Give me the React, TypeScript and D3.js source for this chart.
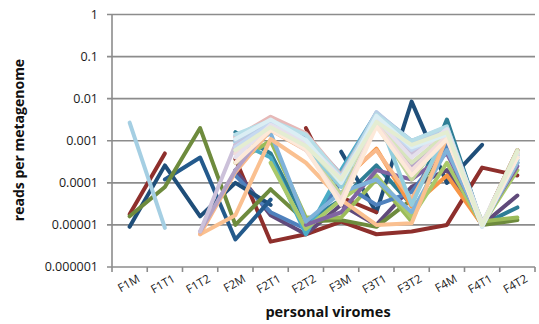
import React from "react";
import * as d3 from "d3";

// Sample labels along the x axis
const categories = ["F1M", "F1T1", "F1T2", "F2M", "F2T1", "F2T2", "F3M", "F3T1", "F3T2", "F4M", "F4T1", "F4T2"];
const yTickValues = [1, 0.1, 0.01, 0.001, 0.0001, 0.00001, 0.000001];
const yTickLabels = ["1", "0.1", "0.01", "0.001", "0.0001", "0.00001", "0.000001"];

type V = number | null;
const _ = null;

// Contig abundances per sample (reads per metagenome); null = not detected
const f1Navy: V[] = [9e-6, 2.6e-4, 1.6e-5, 1e-4, 3e-5, _, _, _, _, _, _, _];
const f1Blue: V[] = [_, 1.2e-4, 4e-4, 4.5e-6, 4e-5, _, _, _, _, _, _, _];
const f1Red: V[] = [1.8e-5, 5e-4, _, _, _, _, _, _, _, _, _, _];
const f1Olive: V[] = [1.6e-5, 8e-5, 2e-3, 1e-5, 7e-5, _, _, _, _, _, _, _];
const f1Sky: V[] = [2.7e-3, 8.5e-6, _, _, _, _, _, _, _, _, _, _];

const tealA: V[] = [_, _, _, 1.6e-3, 5e-4, 1.2e-5, 4e-5, 2.6e-4, 3e-5, 3.2e-3, 1e-5, 2.6e-5];
const navyB: V[] = [_, _, _, _, _, _, 5.5e-4, 2e-5, 8.5e-3, 1e-4, 8e-4, _];
const redB: V[] = [_, _, _, _, _, 2e-3, 4.5e-5, 2e-5, _, _, _, _];
const redC: V[] = [_, _, _, 3.7e-4, 4e-6, 6e-6, 1.2e-5, 6e-6, 7e-6, 1e-5, 2.3e-4, 1.5e-4];
const purpleA: V[] = [_, _, _, 2e-4, 1.7e-5, 6e-6, 3e-5, 1e-5, 8e-5, 2e-4, 1e-5, 5e-5];
const orangeA: V[] = [_, _, _, _, _, _, 1e-4, 6.5e-4, 2.7e-5, 1.5e-4, 1e-5, 6e-4];
const greenA: V[] = [_, _, _, 3e-4, 1e-3, 1.5e-5, 1.5e-5, 1.2e-4, 1.2e-5, 1.2e-3, 1.2e-5, 1.5e-5];
const oliveB: V[] = [_, _, _, _, 7e-5, 1.2e-5, 1.3e-5, 9e-6, 4e-5, 1e-3, 1e-5, 1.3e-5];
const aquaA: V[] = [_, _, _, 1e-3, 4e-4, 6e-6, 2e-4, 4.5e-3, 1.5e-4, 2e-3, 1e-5, 3e-4];
const blueA: V[] = [_, _, _, 1.5e-4, 2e-5, 8e-6, 1e-4, 3e-5, 6e-5, 8e-4, 1e-5, 6e-4];
const skyB: V[] = [_, _, _, 6e-4, 1.5e-3, 1.2e-5, 6e-5, 1.2e-4, 2e-5, 6e-4, 1e-5, 3e-4];
const limeA: V[] = [_, _, _, _, 3e-4, 8e-6, 4e-5, 1.5e-4, 1.5e-5, 3e-4, 1e-5, 2e-4];
const purpleB: V[] = [_, _, _, _, _, 1e-5, 2e-5, 2e-4, 1.2e-4, 5e-4, 1.1e-5, 2.5e-4];
const peachA: V[] = [_, _, 6e-6, 1.7e-5, 1.1e-3, 3e-4, 4e-5, 1e-5, 1.1e-5, 1.2e-3, 1e-5, 5e-4];
const peachB: V[] = [_, _, 6e-6, 1.8e-4, 1.8e-3, 6e-4, 1.2e-4, 6e-4, 4e-5, 1.3e-3, 1e-5, 4e-4];

const pink1: V[] = [_, _, _, 1.2e-3, 3.7e-3, 1.5e-3, 1.5e-4, 4e-3, 8e-4, 1.8e-3, 1e-5, 5e-4];
const lav1: V[] = [_, _, 7e-6, 8e-4, 3e-3, 1e-3, 1.3e-4, 3.5e-3, 5e-4, 1.6e-3, 9e-6, 4.5e-4];
const ice1: V[] = [_, _, _, 1e-3, 2.8e-3, 9e-4, 1.2e-4, 4.8e-3, 9e-4, 2e-3, 1e-5, 5.5e-4];
const sage1: V[] = [_, _, _, 6e-4, 2.2e-3, 8e-4, 1e-4, 3e-3, 3e-4, 1.5e-3, 1e-5, 6e-4];
const mist1: V[] = [_, _, _, 1.4e-3, 3e-3, 1.4e-3, 1.4e-4, 4.2e-3, 1e-3, 2.2e-3, 1.1e-5, 4e-4];
const sky1: V[] = [_, _, _, 9e-4, 2.5e-3, 7e-4, 8e-5, 4.5e-3, 3e-5, 1.8e-3, 1e-5, 3.5e-4];
const rose1: V[] = [_, _, _, 5e-4, 2e-3, 6e-4, 4e-5, 2.5e-3, 2e-4, 1.3e-3, 1e-5, 5e-4];
const ice2: V[] = [_, _, _, 7e-4, 2.6e-3, 8.5e-4, 1.1e-4, 3.8e-3, 6e-4, 1.7e-3, 1e-5, 4.5e-4];
const lilac1: V[] = [_, _, _, 4e-4, 2.4e-3, 9.5e-4, 1.3e-4, 3.3e-3, 4e-4, 1.9e-3, 1.1e-5, 5e-4];
const frost1: V[] = [_, _, _, 1.1e-3, 3.2e-3, 1.05e-3, 1e-4, 3.9e-3, 7e-4, 1.4e-3, 9e-6, 4e-4];
const cream1: V[] = [_, _, _, 3e-4, 1.8e-3, 6.5e-4, 3e-5, 2.2e-3, 1.5e-4, 1.1e-3, 1e-5, 4e-4];
const steel1: V[] = [_, _, _, 1.3e-3, 2.7e-3, 1.3e-3, 1.6e-4, 4.6e-3, 1e-3, 2.1e-3, 1e-5, 3e-4];
const blush1: V[] = [_, _, _, 8e-4, 3.4e-3, 9e-4, 1.1e-4, 3e-3, 3e-4, 1.2e-3, 1e-5, 6e-4];
const moss1: V[] = [_, _, _, 5e-4, 1.9e-3, 7e-4, 5e-5, 2.4e-3, 1.2e-4, 1.5e-3, 1e-5, 4.5e-4];
const lav2: V[] = [_, _, 7e-6, 2e-4, 2.3e-3, 8e-4, 1e-4, 3.1e-3, 2.5e-4, 1.2e-3, 1e-5, 3.5e-4];
const pale1: V[] = [_, _, _, 6e-4, 2.1e-3, 7.5e-4, 1.2e-4, 2.8e-3, 8e-4, 1.6e-3, 1e-5, 5.5e-4];

// Drawing order (later series paint over earlier ones) with line colours
const seriesList: { values: V[]; color: string }[] = [
  { values: redC, color: "#8E2F2C" },
  { values: tealA, color: "#2E7D95" },
  { values: navyB, color: "#1F4E79" },
  { values: redB, color: "#8E2F2C" },
  { values: purpleA, color: "#604A7B" },
  { values: oliveB, color: "#6E8B3D" },
  { values: greenA, color: "#9BBB59" },
  { values: blueA, color: "#4F81BD" },
  { values: aquaA, color: "#4BACC6" },
  { values: orangeA, color: "#F79646" },
  { values: limeA, color: "#A9C96B" },
  { values: purpleB, color: "#8064A2" },
  { values: skyB, color: "#7FB2DA" },
  { values: f1Navy, color: "#1F4E79" },
  { values: f1Blue, color: "#245A8C" },
  { values: f1Red, color: "#8E2F2C" },
  { values: f1Olive, color: "#6E8B3D" },
  { values: peachA, color: "#FAC090" },
  { values: peachB, color: "#F9B98A" },
  { values: steel1, color: "#95B3D7" },
  { values: blush1, color: "#D99694" },
  { values: moss1, color: "#C3D69B" },
  { values: lav2, color: "#B3A2C7" },
  { values: sky1, color: "#93CDDD" },
  { values: pink1, color: "#E6B9B8" },
  { values: lav1, color: "#CCC1DA" },
  { values: ice1, color: "#B9CDE5" },
  { values: sage1, color: "#D7E4BD" },
  { values: mist1, color: "#B7DEE8" },
  { values: rose1, color: "#F2DCDB" },
  { values: ice2, color: "#C6D9F1" },
  { values: lilac1, color: "#E5E0EC" },
  { values: frost1, color: "#DBEEF4" },
  { values: cream1, color: "#FDE9D9" },
  { values: pale1, color: "#E4EDD2" },
  { values: f1Sky, color: "#A5CFE3" },
];

const W = 539;
const H = 324;
const M = { left: 112, right: 535, top: 14.5, bottom: 267 };
const FONT = "'Open Sans', 'Liberation Sans', sans-serif";
const GRID = "#8c8c8c";

export default function App() {
  const x = d3.scaleBand<string>().domain(categories).range([M.left, M.right]);
  const y = d3.scaleLog().domain([1e-6, 1]).range([M.bottom, M.top]);
  const cx = (c: string) => (x(c) ?? 0) + x.bandwidth() / 2;

  const line = d3
    .line<V>()
    .defined((d) => d != null)
    .x((_d, i) => cx(categories[i]))
    .y((d) => y(d as number));

  const bounds = [...categories.map((c) => x(c) ?? 0), M.right];

  return (
    <svg
      width={W}
      height={H}
      style={{ position: "fixed", left: 0, top: 0, background: "#fff" }}
      fontFamily={FONT}
    >
      {/* horizontal gridlines and y ticks */}
      {yTickValues.map((v, i) => (
        <g key={v}>
          <line x1={M.left - 5} x2={M.right} y1={y(v)} y2={y(v)} stroke={GRID} strokeWidth={1.6} />
          <text x={98} y={y(v)} dy="0.35em" textAnchor="end" fontSize={12.5} fill="#1a1a1a">
            {yTickLabels[i]}
          </text>
        </g>
      ))}
      {/* axes */}
      <line x1={M.left} x2={M.left} y1={M.top} y2={M.bottom} stroke={GRID} strokeWidth={1.6} />
      {bounds.map((b, i) => (
        <line key={i} x1={b} x2={b} y1={M.bottom} y2={M.bottom + 5} stroke={GRID} strokeWidth={1.6} />
      ))}

      {/* series */}
      <g fill="none" strokeWidth={4} strokeLinejoin="round" strokeLinecap="round">
        {seriesList.map((s, i) => (
          <path key={i} d={line(s.values) ?? ""} stroke={s.color} />
        ))}
      </g>

      {/* category labels */}
      {categories.map((c) => (
        <text
          key={c}
          transform={`translate(${cx(c) + 11},${M.bottom + 14}) rotate(-30)`}
          textAnchor="end"
          fontSize={11.5}
          fill="#1a1a1a"
        >
          {c}
        </text>
      ))}

      <text x={328} y={317} textAnchor="middle" fontSize={14.5} fontWeight="bold" fill="#111">
        personal viromes
      </text>
      <text
        transform={`translate(24,140) rotate(-90)`}
        textAnchor="middle"
        fontSize={14}
        fontWeight="bold"
        fill="#111"
      >
        reads per metagenome
      </text>
    </svg>
  );
}
